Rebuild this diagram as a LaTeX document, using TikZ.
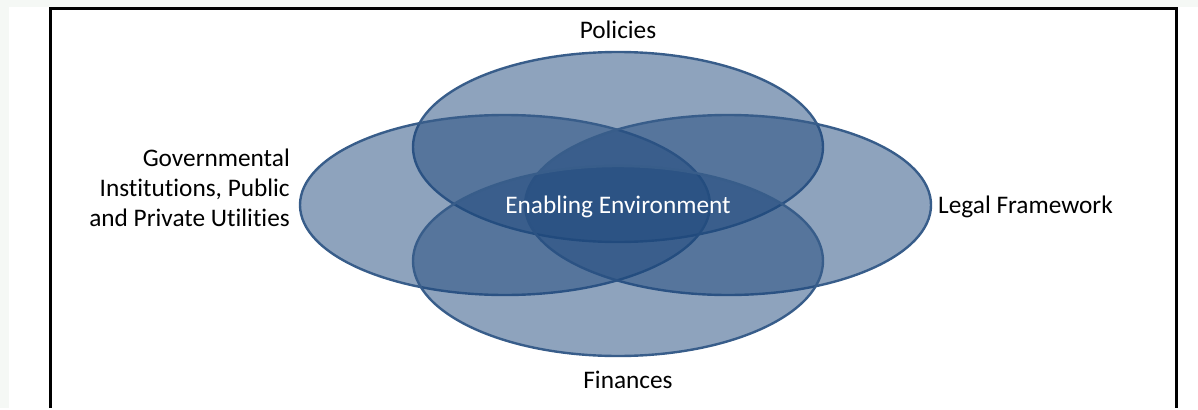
\documentclass[tikz,border=0pt]{standalone}
\usepackage{fontspec}
\setmainfont{Carlito}[Ligatures=NoCommon]
\usepackage{tikz}
\usepackage{xcolor}

\definecolor{venfill}{RGB}{31,73,125}
\definecolor{venline}{RGB}{56,93,138}
\definecolor{pagegray}{RGB}{245,248,245}

\begin{document}
\begin{tikzpicture}[x=1pt,y=-1pt,
        lbl/.style={font=\fontsize{25.3}{30}\selectfont,inner sep=0pt},
        ring/.style={fill=venfill,fill opacity=0.5,draw=venline,line width=2.4pt}]
        % Fond et cadre
        \fill[white] (0,0) rectangle (1198,408);
        \fill[pagegray] (0,0) rectangle (1198,7);
        \fill[pagegray] (0,0) rectangle (9,408);
        \draw[line width=3pt] (50.5,408) -- (50.5,8.5) -- (1176.5,8.5) -- (1176.5,408);
        % Ellipses
        \path[ring] (618,147) ellipse (205 and 95);
        \path[ring] (505,205) ellipse (205 and 90);
        \path[ring] (728,205) ellipse (203 and 90);
        \path[ring] (618,261) ellipse (205 and 95);
        % Textes
        \node[lbl] (policies) at (618,30) {Policies};
        \node[lbl] (finances) at (628,380) {Finances};
        \node[lbl,anchor=west] (legal) at (938,207) {Legal Framework};
        \node[lbl,anchor=east,align=right] (actors) at (290,188) {Governmental\\Institutions, Public\\and Private Utilities};
        \node[lbl,text=white] (core) at (618,207) {Enabling Environment};
\end{tikzpicture}
\end{document}
